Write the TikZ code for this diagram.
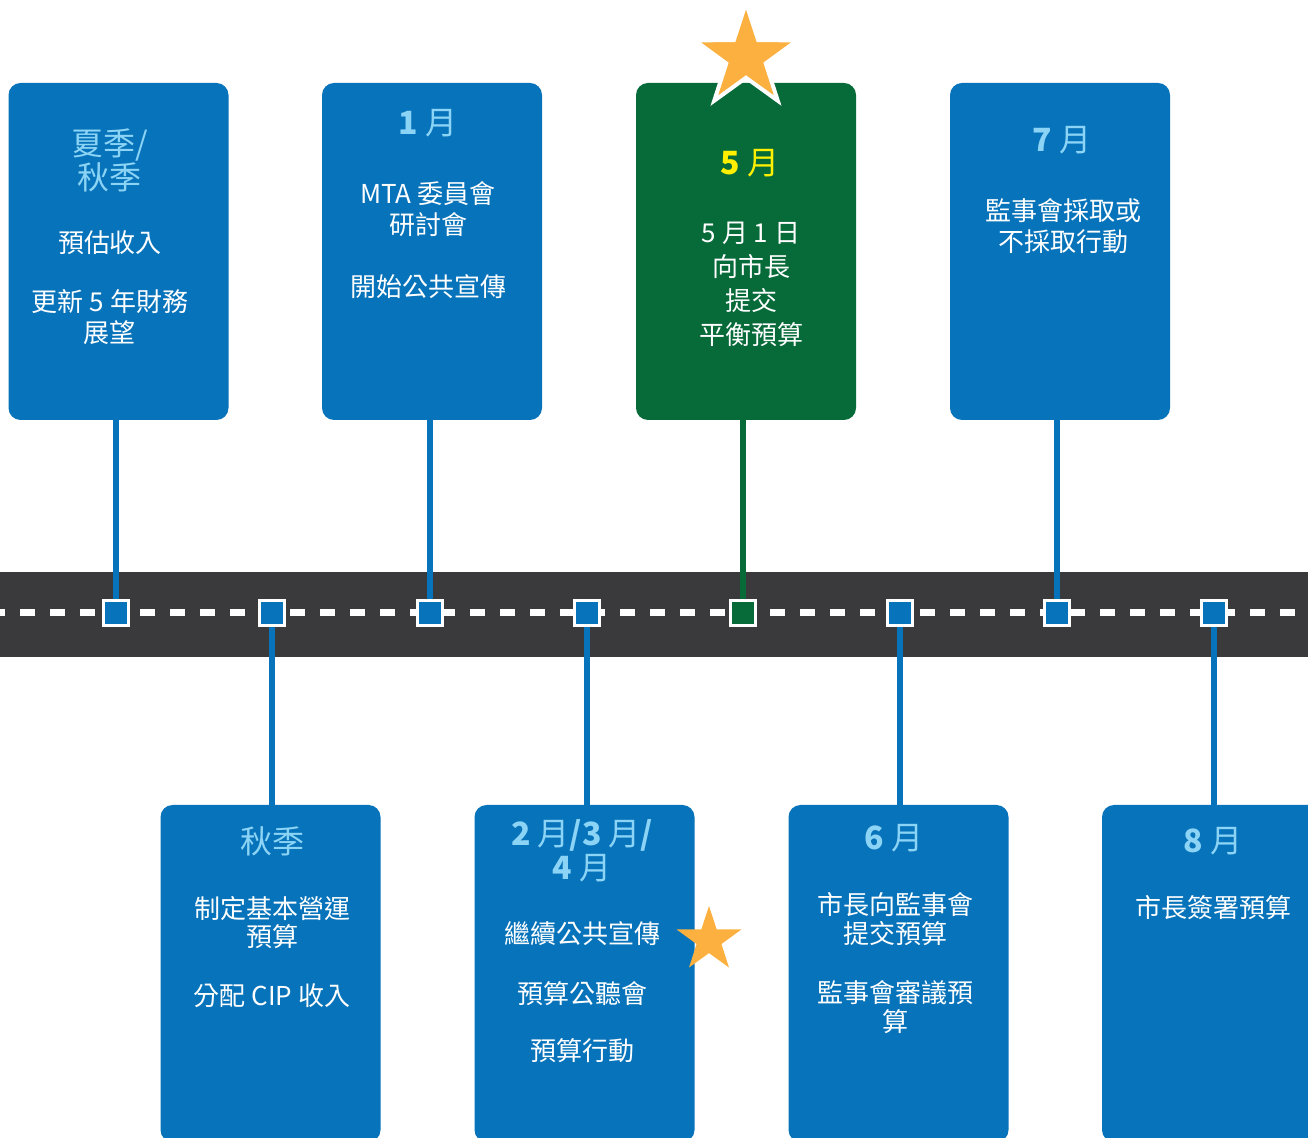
\documentclass[tikz,border=0pt]{standalone}
\usepackage{fontspec}
\setmainfont{Noto Sans CJK TC}
\usetikzlibrary{shapes.geometric}

\definecolor{cardblue}{RGB}{7,115,186}
\definecolor{cardgreen}{RGB}{7,106,57}
\definecolor{roadgray}{RGB}{58,58,60}
\definecolor{headblue}{RGB}{140,212,245}
\definecolor{headyellow}{RGB}{255,240,0}
\definecolor{starorange}{RGB}{251,176,64}

\tikzset{
  card/.style={fill=cardblue, rounded corners=6pt, minimum width=110pt, minimum height=168.5pt, inner sep=0pt},
  head/.style={text=headblue, font=\fontsize{16}{17}\selectfont, align=center, inner sep=0pt},
  body/.style={text=white, font=\fontsize{13}{15.5}\selectfont, align=center, inner sep=0pt},
  tight/.style={font=\fontsize{13}{14.3}\selectfont},
  stop/.style={draw=white, line width=1.5pt, fill=cardblue, minimum size=12.5pt, inner sep=0pt},
  stem/.style={cardblue, line width=3pt},
  prize/.style={star, star points=5, star point ratio=2.6, fill=starorange, inner sep=0pt}
}

\begin{document}
\begin{tikzpicture}[x=0.5pt, y=-0.5pt]
  \useasboundingbox (0,0) rectangle (1308,1138);

  % road with its centre line
  \fill[roadgray] (0,572) rectangle (1308,657);
  \draw[white, line width=3.5pt, dash pattern=on 7.5pt off 7.5pt, dash phase=5pt] (0,613) -- (1308,613);

  % cards above the road
  \node[card] (sumfall) at (118.5,251.5) {};
  \node[card] (jan) at (432,251.5) {};
  \node[card, fill=cardgreen] (may) at (746,251.5) {};
  \node[card] (jul) at (1060,251.5) {};
  % cards below the road
  \node[card] (fall) at (270.5,973.5) {};
  \node[card] (febapr) at (584.5,973.5) {};
  \node[card] (jun) at (898.5,973.5) {};
  \node[card] (aug) at (1212,973.5) {};

  % stops on the road
  \foreach \x [count=\i] in {116,272,430,587,743,900,1057,1214}
    \node[stop] (m\i) at (\x,613) {};
  \node[stop, fill=cardgreen] at (m5) {};

  \draw[stem] (m1.north) -- (m1 |- sumfall.south);
  \draw[stem] (m3.north) -- (m3 |- jan.south);
  \draw[stem, cardgreen] (m5.north) -- (m5 |- may.south);
  \draw[stem] (m7.north) -- (m7 |- jul.south);
  \draw[stem] (m2.south) -- (m2 |- fall.north);
  \draw[stem] (m4.south) -- (m4 |- febapr.north);
  \draw[stem] (m6.south) -- (m6 |- jun.north);
  \draw[stem] (m8.south) -- (m8 |- aug.north);

  % texts above
  \node[head] (sumfallh) at (110,160) {夏季/\\秋季};
  \node[body] (sumfall1) at (110,243) {預估收入};
  \node[body] (sumfall2) at (110,317.5) {更新 5 年財務\\展望};

  \node[head] (janh) at (428,123) {{\bfseries 1} 月};
  \node[body] (jan1) at (428,209) {MTA 委員會\\研討會};
  \node[body] (jan2) at (428,287) {開始公共宣傳};

  \node[head, text=headyellow] (mayh) at (750,163) {{\bfseries 5} 月};
  \node[body, font=\fontsize{13}{17}\selectfont] (may1) at (751,284) {5 月 1 日\\向市長\\提交\\平衡預算};

  \node[head] (julh) at (1062,140) {{\bfseries 7} 月};
  \node[body] (jul1) at (1063,226) {監事會採取或\\不採取行動};

  % texts below
  \node[head] (fallh) at (272,841) {秋季};
  \node[body, tight] (fall1) at (272,922.5) {制定基本營運\\預算};
  \node[body] (fall2) at (272,996) {分配 CIP 收入};

  \node[head] (febaprh) at (582,850.5) {{\bfseries 2} 月{\bfseries /3} 月{\bfseries /}\\{\bfseries 4} 月};
  \node[body] (febapr1) at (582,934) {繼續公共宣傳};
  \node[body] (febapr2) at (582,994) {預算公聽會};
  \node[body] (febapr3) at (582,1051) {預算行動};

  \node[head] (junh) at (894,838) {{\bfseries 6} 月};
  \node[body, tight] (jun1) at (895,919) {市長向監事會\\提交預算};
  \node[body, tight] (jun2) at (895,1007) {監事會審議預\\算};

  \node[head] (augh) at (1213,841) {{\bfseries 8} 月};
  \node[body] (aug1) at (1213,908) {市長簽署預算};

  % stars
  \node[prize, draw=white, line width=2pt, minimum size=54pt] (bigstar) at (746,57) {};
  \node[prize, minimum size=34pt] (smallstar) at (709,940) {};
\end{tikzpicture}
\end{document}
